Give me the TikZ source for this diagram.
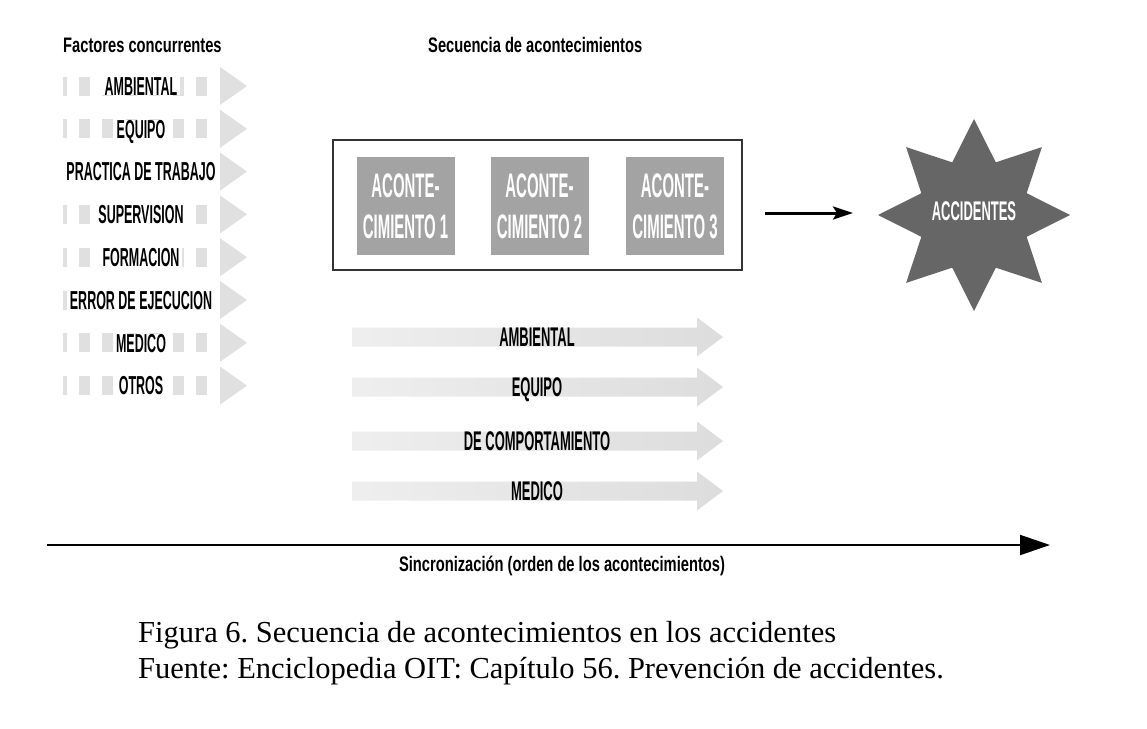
\documentclass[tikz,border=0pt]{standalone}
\usepackage{fontspec}
\setmainfont{Liberation Serif}
\newfontfamily\capsf[FakeStretch=0.48]{Liberation Sans}
\newfontfamily\boxsf[FakeStretch=0.44]{Liberation Sans}
\newfontfamily\lowsf[FakeStretch=0.7]{Liberation Sans}
\usetikzlibrary{arrows.meta}
\definecolor{barc}{HTML}{E0E0E0}
\definecolor{boxc}{HTML}{A3A3A3}
\definecolor{starc}{HTML}{666666}
\definecolor{framec}{HTML}{333333}
\tikzset{
  factor/.style={fill=white, inner xsep=3pt, inner ysep=0pt, text height=18.6pt, text depth=0pt,
    font=\capsf\bfseries\fontsize{26}{30}\selectfont},
  dashbar/.style={draw=barc, line width=19pt, dash pattern=on 11pt off 12.4pt, dash phase=7.4pt},
  tri/.style={fill=barc},
  eventbox/.style={fill=boxc, minimum size=98pt, inner sep=0pt, text=white, align=center,
    font=\boxsf\bfseries\fontsize{34}{41}\selectfont},
  flowlabel/.style={inner sep=0pt, text height=19.3pt, text depth=0pt,
    font=\capsf\bfseries\fontsize{27}{31}\selectfont},
  heading/.style={inner sep=0pt, font=\lowsf\bfseries\fontsize{21}{25}\selectfont},
  caption/.style={inner sep=0pt, font=\frenchspacing\fontsize{30.5}{36}\selectfont},
}
\begin{document}
\begin{tikzpicture}[x=1pt,y=-1pt]
\useasboundingbox[fill=white] (0,0) rectangle (1147,728);

% headings
\node[heading, anchor=base west] (hfac) at (63,52) {Factores concurrentes};
\node[heading, anchor=base west] (hseq) at (428,52) {Secuencia de acontecimientos};

% factor rows
\foreach \i/\t in {0/AMBIENTAL,1/EQUIPO,2/PRACTICA DE TRABAJO,3/SUPERVISION,4/FORMACION,5/ERROR DE EJECUCION,6/MEDICO,7/OTROS}{
  \pgfmathsetmacro{\yy}{86+42.8*\i}
  \draw[dashbar] (63,\yy) -- (207,\yy);
  \fill[tri] (220,\yy-19) -- (247,\yy) -- (220,\yy+19) -- cycle;
  \node[factor] (f\i) at (141,\yy) {\t};
}

% event box
\node[draw=framec, line width=2pt, minimum width=409pt, minimum height=130pt, inner sep=0pt] (box) at (537.5,205) {};
\node[eventbox] (e1) at (405.5,206) {ACONTE-\\CIMIENTO 1};
\node[eventbox] (e2) at (539.5,206) {ACONTE-\\CIMIENTO 2};
\node[eventbox] (e3) at (675,206) {ACONTE-\\CIMIENTO 3};

% star
\fill[starc, shift={(974,215)}] (0:96) -- (22.5:57) -- (45:96) -- (67.5:57) -- (90:96) -- (112.5:57)
  -- (135:96) -- (157.5:57) -- (180:96) -- (202.5:57) -- (225:96) -- (247.5:57) -- (270:96)
  -- (292.5:57) -- (315:96) -- (337.5:57) -- cycle;
\node[inner sep=0pt, text=white, text height=19.3pt, text depth=0pt,
  font=\capsf\bfseries\fontsize{27}{31}\selectfont] (acc) at (974,211) {ACCIDENTES};

% arrow box -> star
\coordinate (a1) at (765,213);
\coordinate (a2) at (853,213);
\draw[line width=3pt, -{Stealth[length=20pt,width=13pt,inset=4pt]}] (a1) -- (a2);

% flow arrows
\foreach \i/\yy/\t in {0/337/AMBIENTAL,1/387/EQUIPO,2/441/DE COMPORTAMIENTO,3/491/MEDICO}{
  \shade[left color=gray!13, right color=gray!27]
    (352,\yy-9.5) -- (697,\yy-9.5) -- (697,\yy-19.5) -- (723,\yy) -- (697,\yy+19.5)
    -- (697,\yy+9.5) -- (352,\yy+9.5) -- cycle;
  \node[flowlabel] (l\i) at (537,\yy) {\t};
}

% time axis
\coordinate (t0) at (47,545);
\coordinate (t1) at (1050,545);
\draw[line width=2pt, -{Triangle[length=30pt,width=20pt]}] (t0) -- (t1);
\node[heading, anchor=base] (sync) at (562,571) {Sincronización (orden de los acontecimientos)};

% caption
\node[caption, anchor=base west] (c1) at (138,642) {Figura 6. Secuencia de acontecimientos en los accidentes};
\node[caption, anchor=base west] (c2) at (138,678) {Fuente: Enciclopedia OIT: Capítulo 56. Prevención de accidentes.};
\end{tikzpicture}
\end{document}
